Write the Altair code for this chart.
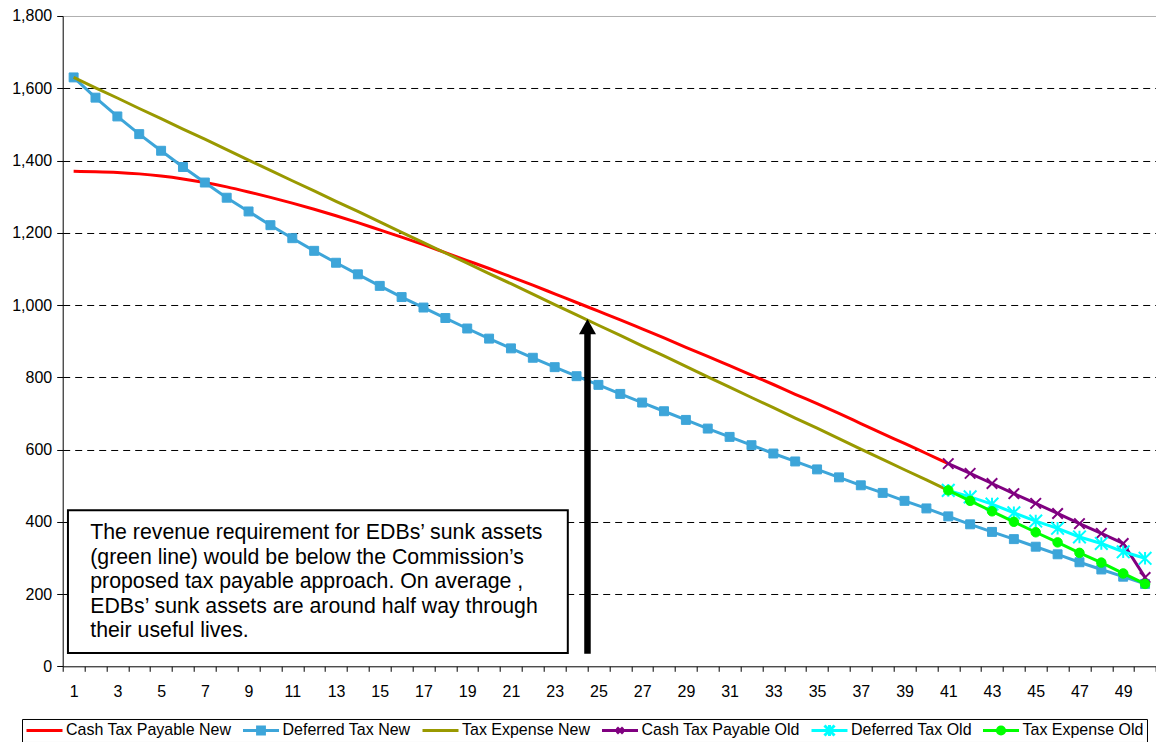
import altair as alt
import pandas as pd

# ---------------- data ----------------
periods = list(range(1, 51))
new_periods = periods[:41]          # 1 .. 41
old_periods = periods[40:]          # 41 .. 50
y_ticks = [0, 200, 400, 600, 800, 1000, 1200, 1400, 1600, 1800]

series_names = ["Cash Tax Payable New", "Deferred Tax New", "Tax Expense New",
                "Cash Tax Payable Old", "Deferred Tax Old", "Tax Expense Old"]
series_colors = ["#FF0000", "#3DA5D9", "#999900", "#800080", "#00FFFF", "#00FF00"]

cash_tax_payable_new = [1370, 1369, 1367, 1363, 1357, 1349, 1339, 1327, 1313, 1298,
                        1282, 1265, 1247, 1228, 1208, 1188, 1167, 1145, 1123, 1101,
                        1078, 1055, 1031, 1007, 983, 959, 934, 909, 883, 858,
                        832, 806, 780, 753, 727, 700, 672, 644, 617, 589, 561]
deferred_tax_new = [1630, 1574, 1522, 1473, 1427, 1382, 1339, 1297, 1259, 1221,
                    1185, 1150, 1117, 1085, 1053, 1022, 993, 964, 935, 907,
                    880, 854, 828, 803, 779, 754, 730, 706, 682, 658,
                    635, 612, 589, 567, 545, 523, 501, 480, 458, 437,
                    415, 393, 372, 352, 331, 310, 288, 268, 248, 228]
tax_expense_new = [1630, 1601, 1573, 1544, 1516, 1487, 1459, 1430, 1401, 1373,
                   1344, 1316, 1287, 1259, 1230, 1201, 1173, 1144, 1116, 1087,
                   1059, 1030, 1001, 973, 944, 916, 887, 859, 830, 801,
                   773, 744, 716, 687, 659, 630, 601, 573, 544, 516, 487]
cash_tax_payable_old = [561, 534, 506, 478, 451, 423, 395, 368, 340, 246]
deferred_tax_old = [487, 469, 449, 425, 402, 382, 358, 340, 317, 299]
tax_expense_old = [487, 458, 429, 400, 371, 343, 314, 287, 257, 228]

note_lines = [
    "The revenue requirement for EDBs\u2019 sunk assets",
    "(green line) would be below the Commission\u2019s",
    "proposed tax payable approach. On average ,",
    "EDBs\u2019 sunk assets are around half way through",
    "their useful lives.",
]

series_data = [
    (series_names[0], new_periods, cash_tax_payable_new),
    (series_names[1], periods, deferred_tax_new),
    (series_names[2], new_periods, tax_expense_new),
    (series_names[3], old_periods, cash_tax_payable_old),
    (series_names[4], old_periods, deferred_tax_old),
    (series_names[5], old_periods, tax_expense_old),
]
rows = []
for name, xs, vs in series_data:
    for p, v in zip(xs, vs):
        rows.append({"series": name, "period": p, "value": v})
df = pd.DataFrame(rows)

# ---------------- styles ----------------
PLOT_W = 1093.3
PLOT_H = 650.3
band = PLOT_W / len(periods)
FONT = "Liberation Sans"

marker_styles = {
    "Deferred Tax New": dict(shape="square", size=80, filled=True, strokeWidth=1),
    "Cash Tax Payable Old": dict(shape="M-1,-1L1,1M-1,1L1,-1", size=110, filled=False, strokeWidth=2),
    "Deferred Tax Old": dict(shape="M0,-1V1M-1,-1L1,1M-1,1L1,-1", size=160, filled=False, strokeWidth=2),
    "Tax Expense Old": dict(shape="circle", size=90, filled=True, strokeWidth=1),
}
# legend glyphs: a line with the series' marker (solid markers drawn as concentric strokes)
legend_paths = [
    "M-1,0H1",
    "M-1,0H1M-0.19,-0.19H0.19V0.19H-0.19ZM-0.06,-0.06H0.06V0.06H-0.06Z",
    "M-1,0H1",
    "M-1,0H1M-0.17,-0.17L0.17,0.17M-0.17,0.17L0.17,-0.17",
    "M-1,0H1M0,-0.3V0.3M-0.28,-0.28L0.28,0.28M-0.28,0.28L0.28,-0.28",
    "M-1,0H1M-0.2,0A0.2,0.2,0,1,0,0.2,0A0.2,0.2,0,1,0,-0.2,0ZM-0.07,0A0.07,0.07,0,1,0,0.07,0A0.07,0.07,0,1,0,-0.07,0Z",
]

x_scale = alt.Scale(domain=[0.5, 50.5], nice=False, zero=False)
y_scale = alt.Scale(domain=[0, 1800], nice=False)
x_axis = alt.Axis(
    values=[p - 0.5 for p in periods] + [periods[-1] + 0.5],
    labelExpr="((datum.value + 0.5) % 2 === 1 && datum.value < 50) ? '' + (datum.value + 0.5) : ''",
    labelOffset=band / 2, labelOverlap=False, labelFlush=False, labelBound=False,
    tickSize=5, tickColor="black", domainColor="black", grid=False,
    labelPadding=12, title=None, labelFont=FONT, labelFontSize=16, labelColor="black",
)
y_axis = alt.Axis(
    values=y_ticks, format=",d", tickSize=6, tickColor="black", domainColor="black",
    labelPadding=5, title=None, grid=True, labelFont=FONT, labelFontSize=16, labelColor="black",
    gridDash={"condition": {"test": "datum.value === 1800", "value": [1, 0]}, "value": [7, 5]},
    gridColor={"condition": {"test": "datum.value === 1800", "value": "#A0A0A0"}, "value": "#000000"},
    gridOpacity={"condition": {"test": "datum.value === 0", "value": 0}, "value": 1},
)
color_scale = alt.Scale(domain=series_names, range=series_colors)

X = alt.X("period:Q", scale=x_scale, axis=x_axis)
Y = alt.Y("value:Q", scale=y_scale, axis=y_axis)

base = alt.Chart(df)
layers = []
for name, col in zip(series_names, series_colors):
    sub = base.transform_filter(alt.datum.series == name)
    interp = "monotone" if name == "Cash Tax Payable New" else "linear"
    layers.append(
        sub.mark_line(strokeWidth=3, interpolate=interp, color=col).encode(x=X, y=Y)
    )
    if name in marker_styles:
        st = marker_styles[name]
        layers.append(
            sub.mark_point(shape=st["shape"], size=st["size"], filled=st["filled"],
                           strokeWidth=st["strokeWidth"], opacity=1,
                           fill=col if st["filled"] else "transparent", stroke=col).encode(x=X, y=Y)
        )

legend = alt.Legend(
    title=None, orient="none", legendX=-40.7, legendY=703, direction="horizontal",
    columns=6, symbolSize=1296, symbolStrokeWidth=3, clipHeight=17,
    labelFont=FONT, labelFontSize=16, labelColor="black", labelLimit=400,
    labelOffset=2, columnPadding=9.5, padding=3,
    strokeColor="black", fillColor="white", symbolOpacity=1,
)
legend_layer = base.mark_point(filled=False, opacity=0).encode(
    x=X, y=Y,
    color=alt.Color("series:N", scale=color_scale, legend=legend),
    shape=alt.Shape("series:N", scale=alt.Scale(domain=series_names, range=legend_paths), legend=legend),
)

one = alt.Chart(pd.DataFrame({"k": [0]}))
note_box = one.mark_rect(fill="white", stroke="black", strokeWidth=2).encode(
    x=alt.X(datum=0.74, scale=x_scale, axis=x_axis), x2=alt.X2(datum=23.6),
    y=alt.Y(datum=37, scale=y_scale, axis=y_axis), y2=alt.Y2(datum=432),
)
note_text = one.mark_text(text=note_lines, align="left", baseline="top", font=FONT,
                          fontSize=21.3, lineHeight=24.5, color="black").encode(
    x=alt.X(datum=1.76, scale=x_scale, axis=x_axis),
    y=alt.Y(datum=399, scale=y_scale, axis=y_axis),
)
arrow_shaft = one.mark_rule(color="black", strokeWidth=6.5, strokeCap="butt").encode(
    x=alt.X(datum=24.5, scale=x_scale, axis=x_axis),
    y=alt.Y(datum=35, scale=y_scale, axis=y_axis), y2=alt.Y2(datum=925),
)
arrow_head = one.mark_point(shape="M0,-0.9L-1,0.9L1,0.9Z", size=289, filled=True,
                            color="black", opacity=1).encode(
    x=alt.X(datum=24.5, scale=x_scale, axis=x_axis),
    y=alt.Y(datum=940, scale=y_scale, axis=y_axis),
)

chart = alt.layer(*layers, legend_layer, note_box, note_text, arrow_shaft, arrow_head).properties(
    width=PLOT_W, height=PLOT_H,
    padding={"left": 54.7, "top": 8, "right": 0, "bottom": 76},
    autosize=alt.AutoSizeParams(type="none"),
).configure_view(stroke="transparent")

chart.save("out.html", embed_options={"renderer": "svg", "actions": False})
